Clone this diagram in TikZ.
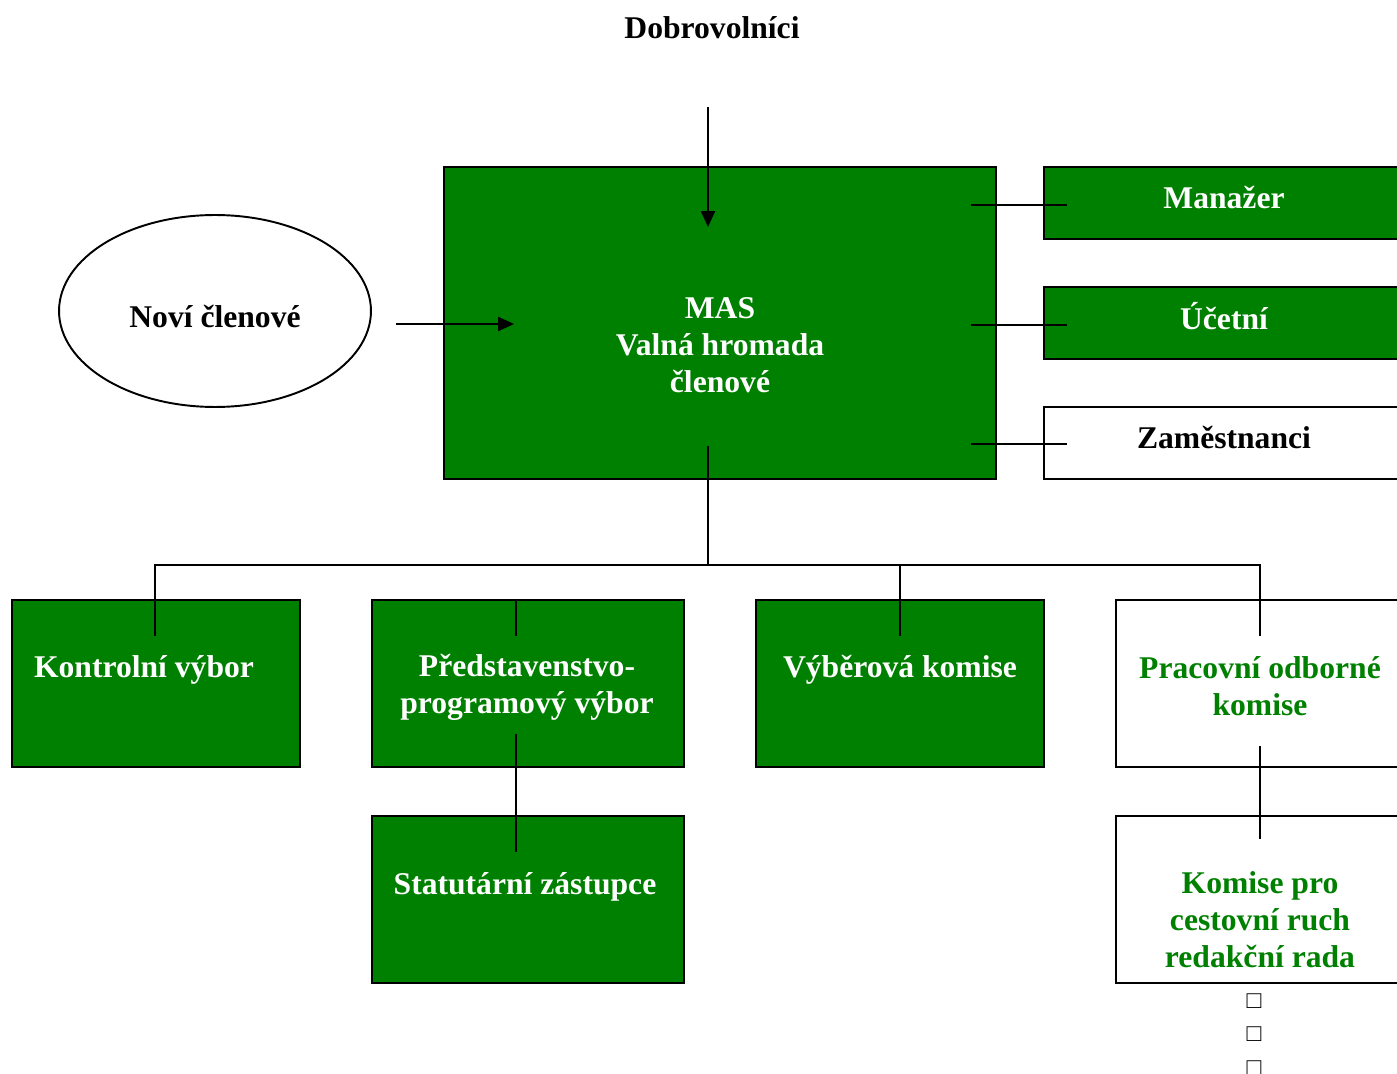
\documentclass[tikz,border=0pt]{standalone}
\usepackage{fontspec}
\setmainfont{Liberation Serif}
\usepackage{xcolor}
\usepackage{tikz}
\usetikzlibrary{positioning}
\usetikzlibrary{arrows.meta}
\usetikzlibrary{calc}
\usetikzlibrary{shapes.geometric}
\definecolor{masgreen}{HTML}{008000}

\begin{document}
\begin{tikzpicture}[x=0.02cm, y=-0.02cm, line width=1.1pt,
    greenbox/.style={rectangle, draw, fill=masgreen, inner sep=0pt},
    whitebox/.style={rectangle, draw, fill=white, inner sep=0pt},
    boxtext/.style={font=\bfseries\fontsize{18}{21}\selectfont, align=center, inner sep=0pt},
    arr/.style={-{Triangle[length=0.32cm,width=0.28cm]}}]
            \useasboundingbox (0,0) rectangle (1397,1074);
            \clip (0,0) rectangle (1397,1074);

            % Top: volunteers and the general assembly
            \node[boxtext] (dobro) at (712,28) {Dobrovolníci};
            \node[greenbox, minimum width=11.04cm, minimum height=6.24cm] (mas) at (720,323) {};
            \node[ellipse, draw, minimum width=6.24cm, minimum height=3.84cm] (novi) at (215,311) {};

            % Staff on the right (boxes run past the page edge)
            \node[greenbox, minimum width=7.32cm, minimum height=1.44cm] (manazer) at (1227,203) {};
            \node[greenbox, minimum width=7.32cm, minimum height=1.44cm] (ucetni) at (1227,323) {};
            \node[whitebox, minimum width=7.32cm, minimum height=1.44cm] (zam) at (1227,443) {};

            % Committees
            \node[greenbox, minimum width=5.76cm, minimum height=3.34cm] (kontrolni) at (156,683.5) {};
            \node[greenbox, minimum width=6.24cm, minimum height=3.34cm] (predstav) at (528,683.5) {};
            \node[greenbox, minimum width=5.76cm, minimum height=3.34cm] (vyber) at (900,683.5) {};
            \node[whitebox, minimum width=5.88cm, minimum height=3.34cm] (pracovni) at (1263,683.5) {};
            \node[greenbox, minimum width=6.24cm, minimum height=3.34cm] (statutar) at (528,899.5) {};
            \node[whitebox, minimum width=5.88cm, minimum height=3.34cm] (komise) at (1263,899.5) {};

            % Connectors
            \draw[arr] ($(mas.north)+(-12,-59)$) -- ($(mas.north)+(-12,61)$);
            \draw[arr] ($(novi.east)+(24,13)$) -- ($(mas.west)+(71,1)$);
            \draw ($(manazer.west)+(-72,2)$) -- ($(manazer.west)+(24,2)$);
            \draw ($(ucetni.west)+(-72,2)$) -- ($(ucetni.west)+(24,2)$);
            \draw ($(zam.west)+(-72,1)$) -- ($(zam.west)+(24,1)$);

            \coordinate (hub) at (708,565);
            \draw ($(mas.south)+(-12,-34)$) -- (hub);
            \draw ($(kontrolni.north)+(-1,37)$) |- (hub) -| ($(pracovni.north)+(-3,37)$);
            \draw ($(predstav.north)+(-12,0)$ |- hub) -- ($(predstav.north)+(-12,37)$);
            \draw (vyber.north |- hub) -- ($(vyber.north)+(0,37)$);
            \draw ($(predstav.south)+(-12,-34)$) -- ($(statutar.north)+(-12,37)$);
            \draw ($(pracovni.south)+(-3,-22)$) -- ($(komise.north)+(-3,24)$);

            % Texts
            \node[boxtext] (novi-t) at (215,317) {Noví členové};
            \node[boxtext, text=white] (mas-t) at (720,345) {MAS\\Valná hromada\\členové};
            \node[boxtext, text=white] (manazer-t) at (1224,198) {Manažer};
            \node[boxtext, text=white] (ucetni-t) at (1224,316) {Účetní};
            \node[boxtext] (zam-t) at (1224,438) {Zaměstnanci};
            \node[boxtext, text=white] (kontrolni-t) at (144,670) {Kontrolní výbor};
            \node[boxtext, text=white] (predstav-t) at (527,687) {Představenstvo-\\programový výbor};
            \node[boxtext, text=white] (vyber-t) at (900,670) {Výběrová komise};
            \node[boxtext, text=masgreen] (pracovni-t) at (1260,686) {Pracovní odborné\\komise};
            \node[boxtext, text=white] (statutar-t) at (525,887) {Statutární zástupce};
            \node[boxtext, text=masgreen] (komise-t) at (1260,920) {Komise pro\\cestovní ruch\\redakční rada};

            % Empty bullets under the last box
            \node[font=\fontsize{14}{14}\selectfont, inner sep=0pt] (sq1) at (1254,1001) {□};
            \node[font=\fontsize{14}{14}\selectfont, inner sep=0pt] (sq2) at (1254,1034) {□};
            \node[font=\fontsize{14}{14}\selectfont, inner sep=0pt] (sq3) at (1254,1068) {□};
        \end{tikzpicture}
\end{document}
